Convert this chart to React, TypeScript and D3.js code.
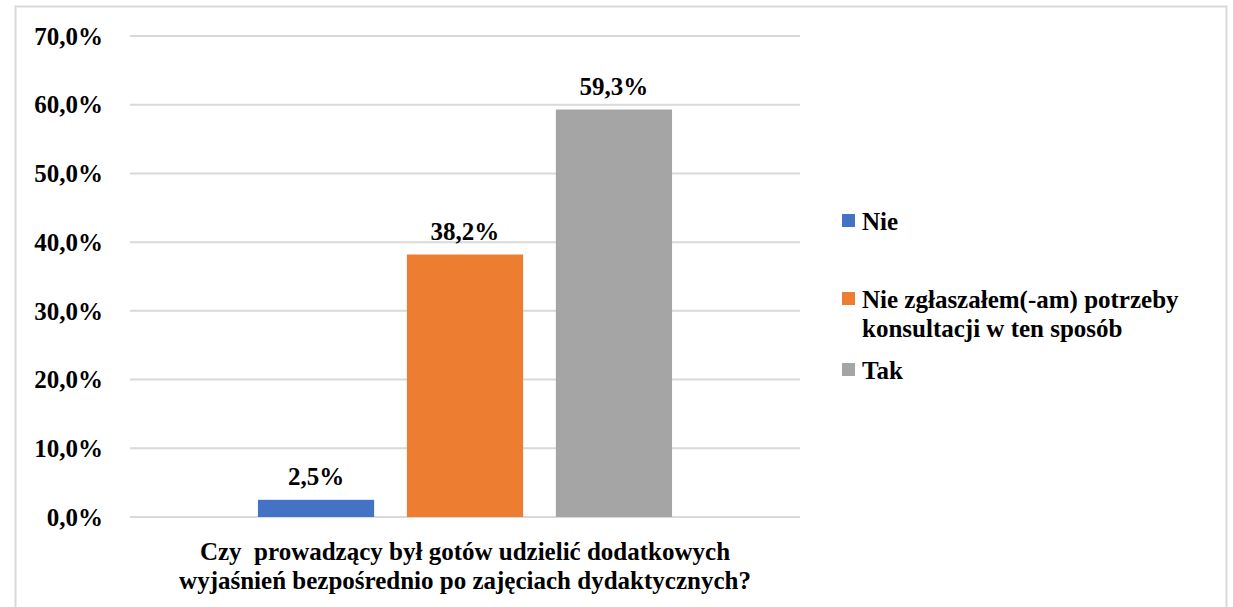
import React, { useEffect, useRef } from "react";
import * as d3 from "d3";

const categories = ["Czy  prowadzący był gotów udzielić dodatkowych wyjaśnień bezpośrednio po zajęciach dydaktycznych?"];
const seriesNames = ["Nie", "Nie zgłaszałem(-am) potrzeby konsultacji w ten sposób", "Tak"];
const seriesValues = [2.5, 38.2, 59.3];
const seriesColors = ["#4472C4", "#ED7D31", "#A5A5A5"];
const yTicks = [0, 10, 20, 30, 40, 50, 60, 70];
const categoryLines = ["Czy\u00a0 prowadzący był gotów udzielić dodatkowych", "wyjaśnień bezpośrednio po zajęciach dydaktycznych?"];
const legendLines = [["Nie"], ["Nie zgłaszałem(-am) potrzeby", "konsultacji w ten sposób"], ["Tak"]];

const W = 1233, H = 607;
const plot = { left: 130, right: 800, top: 36, bottom: 517 };
const fmt = (v: number) => v.toFixed(1).replace(".", ",") + "%";
const FONT = "Liberation Serif";
const FS = 25;

export default function App() {
  const ref = useRef<SVGSVGElement | null>(null);
  useEffect(() => {
    const svg = d3.select(ref.current);
    svg.selectAll("*").remove();
    const y = d3.scaleLinear().domain([0, 70]).range([plot.bottom, plot.top]);
    const x0 = d3.scaleBand().domain(categories).range([plot.left, plot.right]).paddingInner(0).paddingOuter(0.309);
    const x1 = d3.scaleBand().domain(seriesNames).range([0, x0.bandwidth()]).paddingInner(0.22).paddingOuter(0);
    const legendY = [221, 299, 370];
    const txt = (sel: any) => sel.style("font-family", FONT).style("font-weight", "bold").style("font-size", FS + "px").attr("fill", "#000");

    svg.append("rect").attr("width", W).attr("height", H).attr("fill", "#fff");
    svg.append("rect").attr("x", 15.5).attr("y", 6.5).attr("width", 1211).attr("height", 610)
      .attr("fill", "#fff").attr("stroke", "#d9d9d9").attr("stroke-width", 2);

    const gy = svg.append("g");
    yTicks.forEach((t) => {
      gy.append("line").attr("x1", plot.left).attr("x2", plot.right).attr("y1", y(t)).attr("y2", y(t))
        .attr("stroke", "#d9d9d9").attr("stroke-width", 2);
      txt(gy.append("text").attr("x", 103).attr("y", y(t)).attr("dy", "0.35em").attr("text-anchor", "end").text(fmt(t)));
    });

    categories.forEach((c) => {
      const g = svg.append("g").attr("transform", `translate(${x0(c)},0)`);
      seriesNames.forEach((s, i) => {
        g.append("rect").attr("x", x1(s) as number).attr("y", y(seriesValues[i]))
          .attr("width", x1.bandwidth()).attr("height", y(0) - y(seriesValues[i])).attr("fill", seriesColors[i]);
        txt(g.append("text").attr("x", (x1(s) as number) + x1.bandwidth() / 2).attr("y", y(seriesValues[i]) - 15)
          .attr("text-anchor", "middle").text(fmt(seriesValues[i])));
      });
    });

    categoryLines.forEach((l, i) => {
      txt(svg.append("text").attr("x", (plot.left + plot.right) / 2).attr("y", 560 + i * 29).attr("text-anchor", "middle").text(l));
    });

    seriesNames.forEach((s, i) => {
      svg.append("rect").attr("x", 842).attr("y", legendY[i] - 7).attr("width", 13).attr("height", 13).attr("fill", seriesColors[i]);
      legendLines[i].forEach((l, j) => {
        txt(svg.append("text").attr("x", 862).attr("y", legendY[i] + j * 29).attr("dy", "0.35em").text(l));
      });
    });
  }, []);
  return <svg ref={ref} width={W} height={H} style={{ position: "absolute", left: 0, top: 0 }} />;
}
